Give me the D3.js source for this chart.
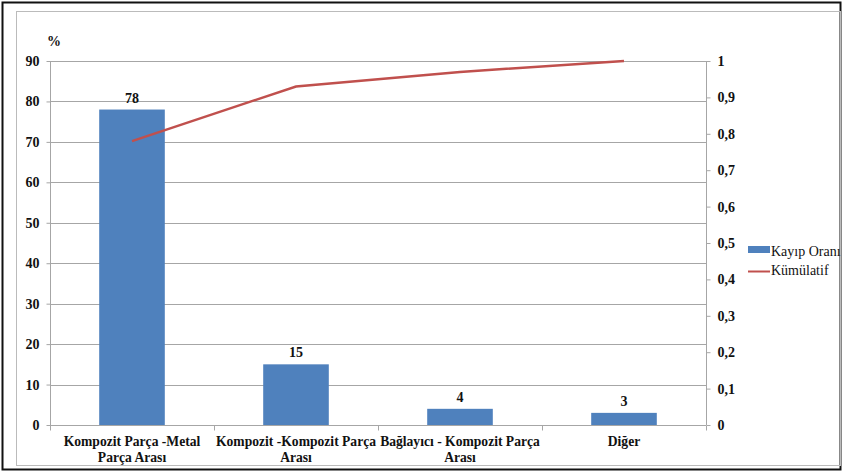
<!DOCTYPE html>
<html><head><meta charset="utf-8">
<script src="https://cdn.jsdelivr.net/npm/d3@7"></script>
</head><body style="margin:0;background:#fff">
<svg id="c" width="844" height="473" style="display:block"></svg>
<script>
const categories = [["Kompozit Parça -Metal","Parça Arası"],["Kompozit -Kompozit Parça","Arası"],["Bağlayıcı - Kompozit Parça","Arası"],["Diğer"]];
const lossValues = [78, 15, 4, 3];
const cumulative = [0.78, 0.93, 0.97, 1.0];
const leftTicks = [0,10,20,30,40,50,60,70,80,90];
const rightTicks = [0,0.1,0.2,0.3,0.4,0.5,0.6,0.7,0.8,0.9,1];
const seriesNames = ["Kayıp Oranı","Kümülatif"];

const FONT = "Liberation Serif";
const svg = d3.select("#c");
svg.append("rect").attr("x",2.5).attr("y",2.5).attr("width",838).attr("height",467).attr("fill","none").attr("stroke","#111").attr("stroke-width",2);
svg.append("rect").attr("x",16.5).attr("y",11.5).attr("width",824).attr("height",454).attr("fill","none").attr("stroke","#bbb").attr("stroke-width",1);

const L=50, R=706, T=61, B=425;
const x = d3.scaleBand().domain(d3.range(categories.length)).range([L,R]).paddingInner(0.6).paddingOuter(0.3);
const xb = d3.scaleBand().domain(d3.range(categories.length)).range([L,R]);
const y = d3.scaleLinear().domain([0,90]).range([B,T]);
const y2 = d3.scaleLinear().domain([0,1]).range([B,T]);

svg.append("g").selectAll("line").data(leftTicks.slice(1)).join("line")
  .attr("x1",L).attr("x2",R).attr("y1",d=>Math.round(y(d))+0.5).attr("y2",d=>Math.round(y(d))+0.5)
  .attr("stroke","#a6a6a6").attr("stroke-width",1);

svg.append("g").selectAll("rect").data(lossValues).join("rect")
  .attr("x",(d,i)=>x(i)).attr("width",x.bandwidth()).attr("y",d=>y(d)).attr("height",d=>B-y(d))
  .attr("fill","#4f81bd");
svg.append("g").selectAll("text").data(lossValues).join("text")
  .attr("x",(d,i)=>x(i)+x.bandwidth()/2).attr("y",d=>y(d)-7)
  .attr("text-anchor","middle").attr("font-family",FONT).attr("font-weight","bold").attr("font-size",14).attr("fill","#111")
  .text(d=>d);

const ga = svg.append("g").attr("transform",`translate(${L+0.5},0)`)
  .call(d3.axisLeft(y).tickValues(leftTicks).tickSize(4).tickPadding(7).tickFormat(d3.format("d")));
const gr = svg.append("g").attr("transform",`translate(${R+0.5},0)`)
  .call(d3.axisRight(y2).tickValues(rightTicks).tickSize(4).tickPadding(7).tickFormat(d=>String(d).replace(".",",")));
const gb = svg.append("g").attr("transform",`translate(0,${B+0.5})`)
  .call(d3.axisBottom(d3.scaleLinear().domain([0,4]).range([L,R])).ticks(4).tickSize(5).tickFormat(""));
[ga,gr,gb].forEach(g=>{
  g.attr("font-family",FONT);
  g.select(".domain").attr("stroke","#a6a6a6");
  g.selectAll(".tick line").attr("stroke","#a6a6a6");
  g.selectAll("text").attr("font-family",FONT).attr("font-weight","bold").attr("font-size",14).attr("fill","#111");
});
gb.select(".domain").attr("d",`M${L},0H${R}`);
ga.select(".domain").attr("d",`M0,${T}V${B}`);
gr.select(".domain").attr("d",`M0,${T}V${B}`);

svg.append("text").attr("x",47).attr("y",46).attr("font-family",FONT).attr("font-weight","bold").attr("font-size",14).attr("fill","#111").text("%");

const cl = svg.append("g").selectAll("text").data(categories).join("text")
  .attr("x",(d,i)=>xb(i)+xb.bandwidth()/2).attr("y",446)
  .attr("text-anchor","middle").attr("font-family",FONT).attr("font-weight","bold").attr("font-size",13.6).attr("fill","#111");
cl.selectAll("tspan").data(d=>d).join("tspan").attr("x",function(){return this.parentNode.getAttribute("x");})
  .attr("dy",(d,i)=>i?16:0).text(d=>d);

const line = d3.line().x((d,i)=>xb(i)+xb.bandwidth()/2).y(d=>y2(d));
svg.append("path").datum(cumulative).attr("d",line).attr("fill","none").attr("stroke","#c0504d").attr("stroke-width",2.5);

const lg = svg.append("g");
lg.append("rect").attr("x",748).attr("y",246).attr("width",22).attr("height",7).attr("fill","#4f81bd");
lg.append("line").attr("x1",748).attr("x2",770).attr("y1",271.5).attr("y2",271.5).attr("stroke","#c0504d").attr("stroke-width",2);
lg.selectAll("text").data(seriesNames).join("text").attr("x",771).attr("y",(d,i)=>256+i*19)
  .attr("font-family",FONT).attr("font-size",14).attr("fill","#111").text(d=>d);
</script></body></html>
